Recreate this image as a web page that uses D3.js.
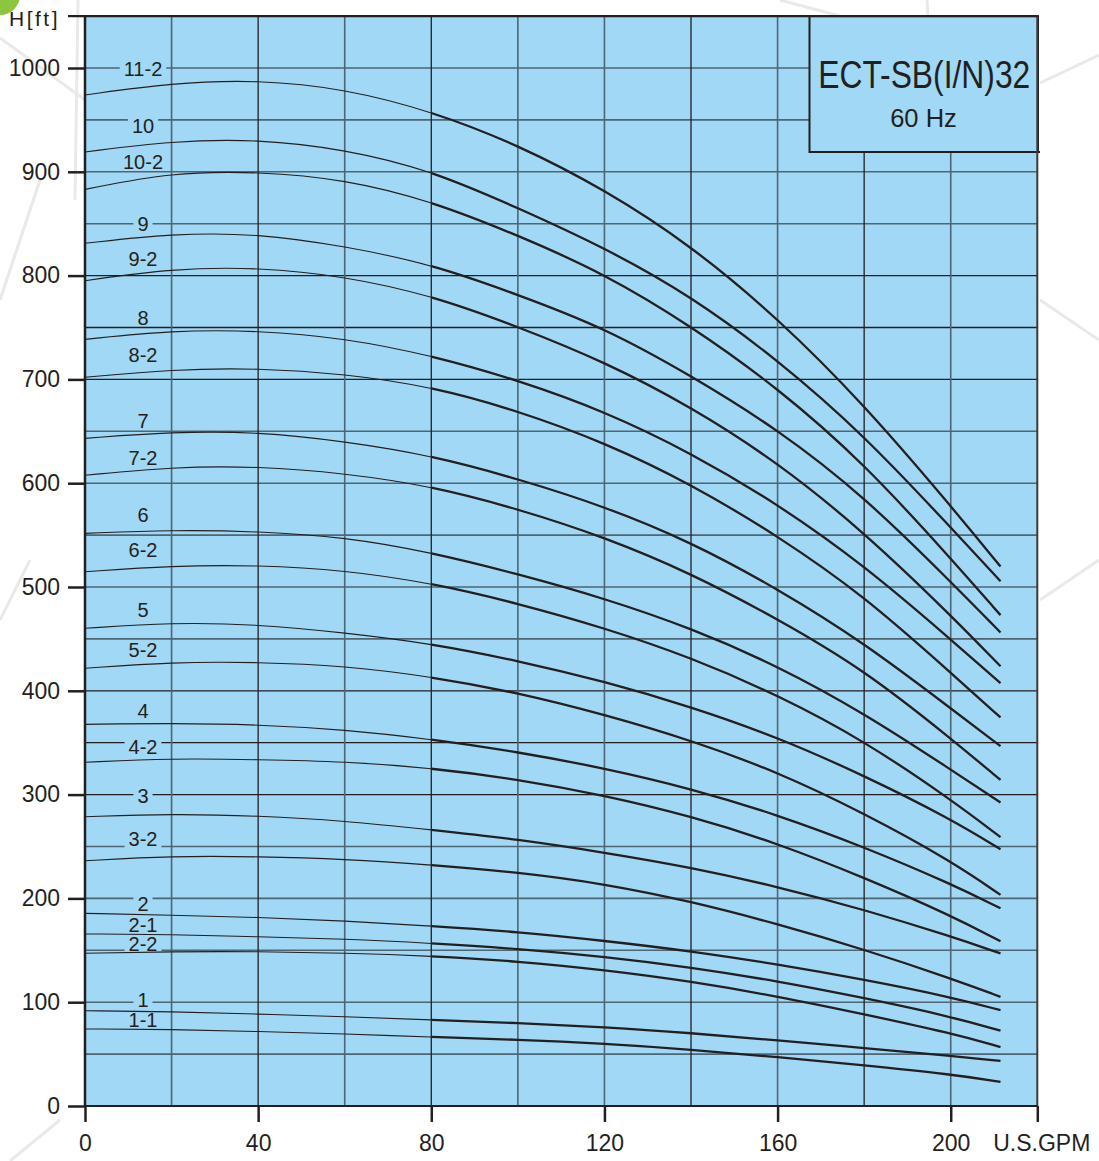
<!DOCTYPE html>
<html>
<head>
<meta charset="utf-8">
<script src="https://cdn.jsdelivr.net/npm/d3@7/dist/d3.min.js"></script>
<style>
  html, body { margin: 0; padding: 0; background: #ffffff; }
  svg { display: block; font-family: "Liberation Sans", Arial, Helvetica, sans-serif; }
</style>
</head>
<body>
<svg id="chart" width="1099" height="1161"></svg>
<script>
// ---- data ----
const flows = [0, 20, 40, 60, 80, 100, 120, 140, 160, 180, 200, 211.5];
const models = ["11-2","10","10-2","9","9-2","8","8-2","7","7-2","6","6-2","5","5-2","4","4-2","3","3-2","2","2-1","2-2","1","1-1"];
const h11_2 = [974.0, 985.6, 988.7, 980.0, 958.5, 926.0, 883.0, 829.0, 759.3, 675.7, 578.2, 519.7];
const h10   = [919.1, 929.7, 931.5, 921.7, 901.4, 865.2, 827.0, 780.4, 719.0, 646.3, 557.3, 505.5];
const h10_2 = [883.1, 899.6, 900.2, 892.8, 871.9, 838.9, 801.9, 751.6, 692.0, 619.2, 527.6, 472.9];
const h9    = [831.1, 840.6, 840.6, 828.3, 811.1, 781.6, 749.7, 703.7, 652.1, 587.3, 505.0, 456.2];
const h9_2  = [795.1, 806.8, 808.0, 799.4, 781.0, 750.9, 717.0, 673.6, 620.2, 552.9, 472.9, 423.6];
const h8    = [738.6, 747.2, 747.2, 739.8, 723.2, 699.3, 669.3, 629.3, 580.0, 520.9, 449.5, 407.3];
const h8_2  = [702.0, 709.7, 710.9, 705.4, 693.1, 669.8, 639.2, 599.2, 549.4, 491.4, 417.3, 374.3];
const h7    = [643.2, 649.5, 649.5, 640.3, 626.8, 604.2, 577.7, 543.3, 498.3, 446.2, 383.1, 346.7];
const h7_2  = [607.6, 615.7, 616.3, 609.6, 597.3, 575.3, 548.1, 513.2, 469.3, 420.2, 354.2, 314.1];
const h6    = [551.7, 554.9, 553.7, 548.1, 533.4, 512.5, 489.1, 460.4, 424.1, 378.4, 324.2, 292.4];
const h6_2  = [514.7, 520.5, 521.1, 516.2, 503.9, 484.2, 460.6, 432.1, 396.0, 351.9, 295.4, 259.0];
const h5    = [460.2, 465.8, 464.0, 456.0, 445.5, 429.0, 409.0, 384.7, 355.3, 318.4, 276.6, 247.3];
const h5_2  = [421.7, 427.7, 427.7, 424.0, 413.6, 398.2, 377.1, 352.3, 321.9, 282.0, 236.3, 203.4];
const h4    = [367.7, 368.7, 367.5, 362.6, 353.4, 341.1, 325.5, 305.8, 280.5, 249.6, 214.2, 190.5];
const h4_2  = [331.1, 334.9, 333.7, 331.9, 325.7, 314.7, 299.3, 279.2, 253.1, 220.1, 183.7, 158.7];
const h3    = [278.7, 281.5, 279.6, 274.7, 266.1, 256.9, 244.2, 229.9, 211.3, 189.2, 163.5, 147.0];
const h3_2  = [236.3, 240.9, 240.3, 237.9, 232.3, 225.2, 214.1, 197.1, 175.4, 150.8, 123.0, 105.2];
const h2    = [185.6, 183.8, 181.9, 178.3, 173.4, 167.8, 159.2, 149.2, 136.5, 121.8, 105.0, 92.3];
const h2_1  = [165.7, 165.3, 162.9, 161.0, 156.8, 151.5, 143.8, 133.6, 120.3, 104.1, 86.2, 72.6];
const h2_2  = [147.1, 148.8, 148.8, 147.5, 144.5, 139.5, 131.1, 120.1, 105.6, 88.4, 70.3, 56.8];
const h1    = [91.8, 91.0, 88.5, 86.1, 83.0, 80.0, 76.1, 70.3, 63.2, 55.8, 48.5, 43.4];
const h1_1  = [74.2, 73.8, 71.8, 69.5, 66.4, 64.0, 60.1, 54.4, 47.1, 39.2, 30.6, 23.3];
const heads = [h11_2,h10,h10_2,h9,h9_2,h8,h8_2,h7,h7_2,h6,h6_2,h5,h5_2,h4,h4_2,h3,h3_2,h2,h2_1,h2_2,h1,h1_1];
// label head positions (ft) and whether the label interrupts a gridline
const labelHeads = [999, 944.6, 909.4, 849.7, 816.0, 759.2, 723.5, 659.9, 624.3, 569.4, 535.6, 477.8, 439.3, 380.5, 345.9, 298.7, 257.2, 194.6, 174.4, 156.1, 102.6, 82.4];
const labelGaps  = [true,true,false,true,false,false,false,false,false,false,false,false,false,false,true,true,true,true,false,true,true,false];
const labelFlow = 13.4;
const xTicks = [0, 40, 80, 120, 160, 200];
const yTicks = [0, 100, 200, 300, 400, 500, 600, 700, 800, 900, 1000];
const xUnit = "U.S.GPM";
const yUnit = "H[ft]";
const title = "ECT-SB(I/N)32";
const subtitle = "60 Hz";
const thickFrom = 80;

// ---- layout ----
const svg = d3.select("#chart");
const x = d3.scaleLinear().domain([0, 220]).range([85, 1037.3]);
const y = d3.scaleLinear().domain([0, 1050]).range([1106, 16.1]);
const BG = "#a0d8f5";
const DARK = "#231f20";
const GRAY = "#4e6573";

// decorative background (faint network lines + green dot)
const deco = svg.append("g").attr("stroke", "#e9e9e9").attr("stroke-width", 3).attr("fill", "none");
[[0,38,85,100],[78,0,75,200],[0,300,40,180],[0,620,30,560],[780,0,840,16],[927,0,928,16],[1040,83,1099,55],[1040,300,1099,340],[1040,600,1099,560],[10,1161,60,1120]]
  .forEach(l => deco.append("line").attr("x1", l[0]).attr("y1", l[1]).attr("x2", l[2]).attr("y2", l[3]));
svg.append("circle").attr("cx", 0).attr("cy", -5).attr("r", 20).attr("fill", "#8cc63e");

// plot background
svg.append("rect").attr("x", x(0)).attr("y", y(1050)).attr("width", x(220) - x(0)).attr("height", y(0) - y(1050)).attr("fill", BG);

// gridlines
const darkH = new Set([300, 350, 400, 700, 750, 800]);
const darkV = new Set([40, 80, 140, 180]);
const grid = svg.append("g");
d3.range(50, 1050, 50).forEach(v => {
  grid.append("line").attr("x1", x(0)).attr("x2", x(220)).attr("y1", y(v)).attr("y2", y(v))
    .attr("stroke", darkH.has(v) ? DARK : GRAY).attr("stroke-width", darkH.has(v) ? 1.3 : 1.6);
});
d3.range(20, 220, 20).forEach(v => {
  grid.append("line").attr("y1", y(0)).attr("y2", y(1050)).attr("x1", x(v)).attr("x2", x(v))
    .attr("stroke", darkV.has(v) ? DARK : GRAY).attr("stroke-width", darkV.has(v) ? 1.3 : 1.6);
});

// clip paths for thin / thick parts
const defs = svg.append("defs");
defs.append("clipPath").attr("id", "clipThin").append("rect")
  .attr("x", x(0)).attr("y", 0).attr("width", x(thickFrom) - x(0)).attr("height", 1161);
defs.append("clipPath").attr("id", "clipThick").append("rect")
  .attr("x", x(thickFrom)).attr("y", 0).attr("width", x(220) - x(thickFrom)).attr("height", 1161);

// labels and their gaps in gridlines
const fontLbl = 20;
const labelG = svg.append("g").attr("font-size", fontLbl).attr("fill", DARK).attr("text-anchor", "middle");
const texts = models.map((m, i) => labelG.append("text")
  .attr("x", x(labelFlow)).attr("y", y(labelHeads[i])).attr("dy", "0.35em").text(m));
texts.forEach((t, i) => {
  if (!labelGaps[i]) return;
  const bb = t.node().getBBox();
  const gy = Math.round(labelHeads[i] / 50) * 50;
  grid.append("rect").attr("x", bb.x - 4).attr("width", bb.width + 8)
    .attr("y", y(gy) - 3).attr("height", 6).attr("fill", BG);
});

// curves
const line = d3.line().x(d => x(d[0])).y(d => y(d[1])).curve(d3.curveBasis);
const curves = svg.append("g").attr("fill", "none").attr("stroke", DARK);
heads.forEach((h, i) => {
  const pts = flows.map((q, j) => [q, h[j]]);
  curves.append("path").attr("d", line(pts)).attr("stroke-width", 1.1).attr("clip-path", "url(#clipThin)");
  curves.append("path").attr("d", line(pts)).attr("stroke-width", 2.3).attr("clip-path", "url(#clipThick)");
});
labelG.raise();

// title box
const bx0 = 809.5, bx1 = 1038, by1 = 152;
svg.append("rect").attr("x", bx0).attr("y", y(1050)).attr("width", bx1 - bx0).attr("height", by1 - y(1050))
  .attr("fill", BG).attr("stroke", DARK).attr("stroke-width", 2);
svg.append("line").attr("x1", bx0).attr("x2", 1040).attr("y1", by1).attr("y2", by1).attr("stroke", DARK).attr("stroke-width", 2);
svg.append("text").attr("x", (bx0 + bx1) / 2 + 0.5).attr("y", 88).attr("text-anchor", "middle")
  .attr("font-size", 38).attr("fill", DARK).attr("textLength", 212).attr("lengthAdjust", "spacingAndGlyphs").text(title);
svg.append("text").attr("x", 923.5).attr("y", 127).attr("text-anchor", "middle")
  .attr("font-size", 25.5).attr("fill", DARK).text(subtitle);

// frame
svg.append("line").attr("x1", x(0)).attr("x2", x(0)).attr("y1", y(1050) - 1).attr("y2", y(0) + 1).attr("stroke", DARK).attr("stroke-width", 2.5);
svg.append("line").attr("x1", x(220)).attr("x2", x(220)).attr("y1", y(1050)).attr("y2", y(0)).attr("stroke", "#3a3a3a").attr("stroke-width", 2);
svg.append("line").attr("x1", 68).attr("x2", x(220)).attr("y1", y(1050)).attr("y2", y(1050)).attr("stroke", DARK).attr("stroke-width", 2.2);
svg.append("line").attr("x1", x(0)).attr("x2", x(220)).attr("y1", y(0)).attr("y2", y(0)).attr("stroke", DARK).attr("stroke-width", 2.2);

// axes
const yAxis = d3.axisLeft(y).tickValues(yTicks).tickSize(17).tickPadding(8).tickFormat(d3.format("d"));
const yg = svg.append("g").attr("transform", `translate(${x(0)},0)`).call(yAxis);
const xAxis = d3.axisBottom(x).tickValues(xTicks.concat([220])).tickSize(16).tickPadding(13)
  .tickFormat(d => d === 220 ? xUnit : d3.format("d")(d));
const xg = svg.append("g").attr("transform", `translate(0,${y(0)})`).call(xAxis);
[yg, xg].forEach(g => {
  g.select(".domain").remove();
  g.selectAll(".tick line").attr("stroke", DARK).attr("stroke-width", 2.5);
  g.selectAll(".tick text").attr("fill", DARK).attr("font-size", 23)
    .attr("font-family", "\"Liberation Sans\", Arial, sans-serif");
});
xg.selectAll(".tick text").filter(d => d === 220).attr("dx", 4);

// y unit
svg.append("text").attr("x", 60).attr("y", 26).attr("text-anchor", "end").attr("font-size", 21)
  .attr("letter-spacing", 2.5).attr("fill", DARK).text(yUnit);
</script>
</body>
</html>
